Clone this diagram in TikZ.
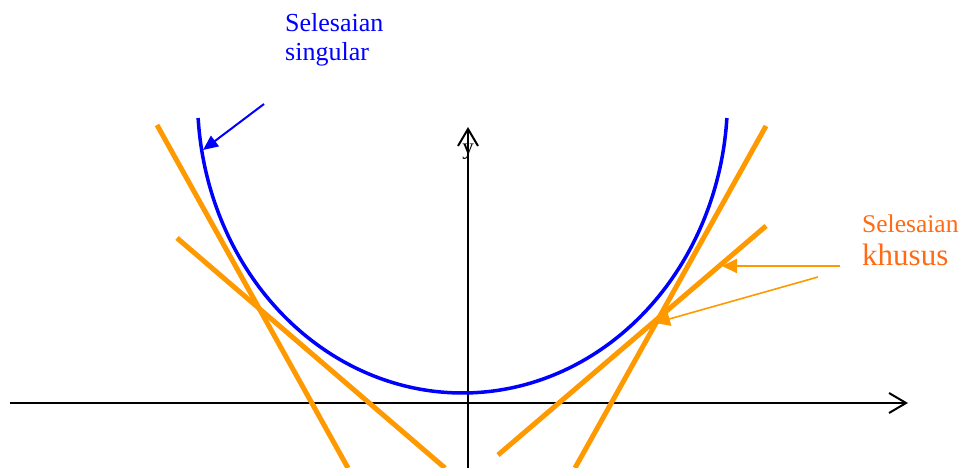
\documentclass[tikz,border=0pt]{standalone}
\usepackage{fontspec}
\setmainfont{Liberation Serif}
\usetikzlibrary{arrows.meta}
\definecolor{envblue}{HTML}{0000FF}
\definecolor{tanorange}{HTML}{FF9900}
\definecolor{noteorange}{HTML}{FF6A12}
\tikzset{
  axisline/.style={line width=2pt,-{Straight Barb[length=17pt,width=20pt]}},
  tangent/.style={tanorange,line width=5pt},
  envelope/.style={envblue,line width=3.5pt},
  bluearr/.style={envblue,line width=2pt,-{Triangle[length=15pt,width=13pt]}},
  orangearr/.style={tanorange,line width=2pt,-{Triangle[length=15pt,width=14pt]}},
  notetext/.style={inner sep=0pt,font=\fontsize{26}{29}\selectfont}
}

\begin{document}
\begin{tikzpicture}[x=1pt,y=-1pt]
  \useasboundingbox (0,0) rectangle (964,468);

  % axes
  \coordinate (xleft) at (10,403);
  \coordinate (xright) at (908,403);
  \coordinate (ybot) at (468,468);
  \coordinate (ytop) at (468,127);
  \draw[axisline] (xleft) -- (xright);
  \draw[axisline] (ybot) -- (ytop);
  \node[font=\fontsize{23}{23}\selectfont,inner sep=0pt,anchor=base] (ylab) at (468,155) {y};

  % particular solutions (tangent lines)
  \foreach \xa/\ya/\xb/\yb in {157/125/348/468, 177/238/445/468,
                               498/455/766/226, 575/468/766/126} {
    \draw[tangent] (\xa,\ya) -- (\xb,\yb);
  }

  % singular solution (envelope, half ellipse)
  \draw[envelope] plot[domain=3.89:176.11,samples=120,smooth]
    ({462.5+265*cos(\x)},{98+295*sin(\x)});

  % labels
  \node[notetext,envblue,anchor=north west,align=left] (singular) at (285,13) {Selesaian\\singular};
  \coordinate (singtail) at (264,104);
  \coordinate (singtip) at (203,150);
  \draw[bluearr] (singtail) -- (singtip);

  \node[notetext,noteorange,anchor=base west,font=\fontsize{25.5}{29}\selectfont] (khususa) at (862,232) {Selesaian};
  \node[notetext,noteorange,anchor=base west,font=\fontsize{31}{31}\selectfont] (khususb) at (862,265) {khusus};
  \coordinate (tailone) at (840,266);
  \coordinate (tipone) at (722,266);
  \coordinate (tailtwo) at (818,277);
  \coordinate (tiptwo) at (655,323);
  \draw[orangearr] (tailone) -- (tipone);
  \draw[orangearr,line width=1.6pt] (tailtwo) -- (tiptwo);
\end{tikzpicture}
\end{document}
